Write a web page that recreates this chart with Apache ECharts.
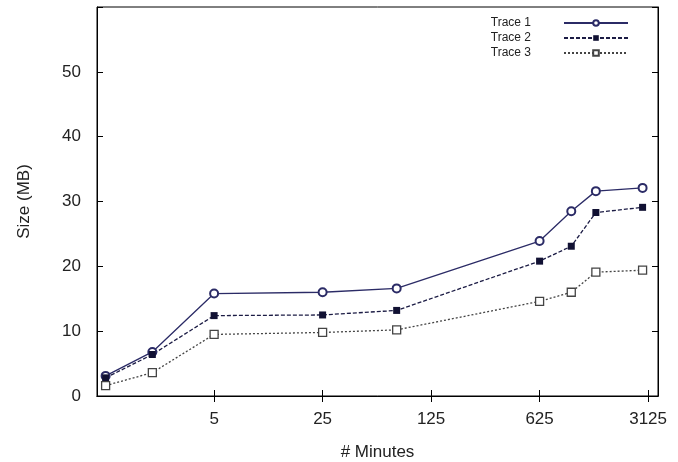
<!DOCTYPE html>
<html>
<head>
<meta charset="utf-8">
<script src="https://cdn.jsdelivr.net/npm/echarts@6/dist/echarts.min.js"></script>
<style>
  html, body { margin: 0; padding: 0; background: #fff; }
  #chart { width: 678px; height: 462px; }
</style>
</head>
<body>
<div id="chart"></div>
<script>
// minutes on the x axis (log base 5)
const minutes = [1, 2, 5, 25, 75, 625, 1000, 1440, 2880];
const trace1 = [3.1, 6.8, 15.8, 16.0, 16.6, 23.9, 28.5, 31.6, 32.1];
const trace2 = [2.8, 6.4, 12.4, 12.5, 13.2, 20.8, 23.1, 28.3, 29.1];
const trace3 = [1.6, 3.6, 9.5, 9.8, 10.2, 14.6, 16.0, 19.1, 19.4];
const names = ['Trace 1', 'Trace 2', 'Trace 3'];
const xTicks = [5, 25, 125, 625, 3125];

const font = 'Liberation Sans, Arial, sans-serif';

function pairs(ys) {
    return minutes.map((m, i) => [m, ys[i]]);
}

let myChart = echarts.init(document.getElementById('chart'), null, {renderer: 'canvas'});

const xCommon = {
    type: 'log',
    logBase: 5,
    min: 0.88,
    max: 3620,
    axisLine: {show: true, lineStyle: {color: '#000', width: 1}},
    axisTick: {show: true, inside: true, length: 6, lineStyle: {color: '#000'}, customValues: xTicks},
    splitLine: {show: false},
    minorTick: {show: false}
};
const yCommon = {
    type: 'value',
    min: 0,
    max: 60,
    interval: 10,
    axisLine: {show: true, lineStyle: {color: '#000', width: 1}},
    axisTick: {show: true, inside: true, length: 6, lineStyle: {color: '#000'}},
    splitLine: {show: false}
};

option = {
    animation: false,
    backgroundColor: '#fff',
    textStyle: {fontFamily: font},
    grid: {
        left: 97, right: 20, top: 7, bottom: 66,
        outerBoundsMode: 'none', containLabel: false,
        show: true, borderColor: '#000', borderWidth: 1
    },
    legend: {
        orient: 'vertical',
        right: 44,
        top: 12,
        align: 'right',
        itemWidth: 64,
        itemHeight: 7,
        itemGap: 3,
        data: names,
        textStyle: {fontFamily: font, fontSize: 12, color: '#222', padding: [0, 28, 0, 0]}
    },
    xAxis: [
        Object.assign({}, xCommon, {
            position: 'bottom',
            name: '# Minutes',
            nameLocation: 'middle',
            nameGap: 48,
            nameTextStyle: {fontFamily: font, fontSize: 17, color: '#222'},
            axisLabel: {
                fontFamily: font, fontSize: 17, color: '#222', margin: 15,
                customValues: xTicks,
                formatter: v => String(Math.round(v))
            }
        }),
        Object.assign({}, xCommon, {position: 'top', axisLabel: {show: false}})
    ],
    yAxis: [
        Object.assign({}, yCommon, {
            position: 'left',
            name: 'Size (MB)',
            nameLocation: 'middle',
            nameGap: 64,
            nameTextStyle: {fontFamily: font, fontSize: 17, color: '#222'},
            axisLabel: {
                fontFamily: font, fontSize: 17, color: '#222', margin: 16,
                formatter: v => (v >= 60 ? '' : String(v))
            }
        }),
        Object.assign({}, yCommon, {position: 'right', axisLabel: {show: false}})
    ],
    series: [
        {
            name: names[0], type: 'line', data: pairs(trace1),
            symbol: 'emptyCircle', symbolSize: 8,
            lineStyle: {color: '#2b2b66', width: 1.3, type: 'solid'},
            itemStyle: {color: '#2b2b66', borderWidth: 1.3}
        },
        {
            name: names[1], type: 'line', data: pairs(trace2),
            symbol: 'rect', symbolSize: 7,
            lineStyle: {color: '#1c1c45', width: 1.3, type: [4, 2]},
            itemStyle: {color: '#111133'}
        },
        {
            name: names[2], type: 'line', data: pairs(trace3),
            symbol: 'rect', symbolSize: 8,
            lineStyle: {color: '#444', width: 1.3, type: [2, 2]},
            itemStyle: {color: '#fff', borderColor: '#444', borderWidth: 1.3}
        }
    ]
};
myChart.setOption(option);
</script>
</body>
</html>
